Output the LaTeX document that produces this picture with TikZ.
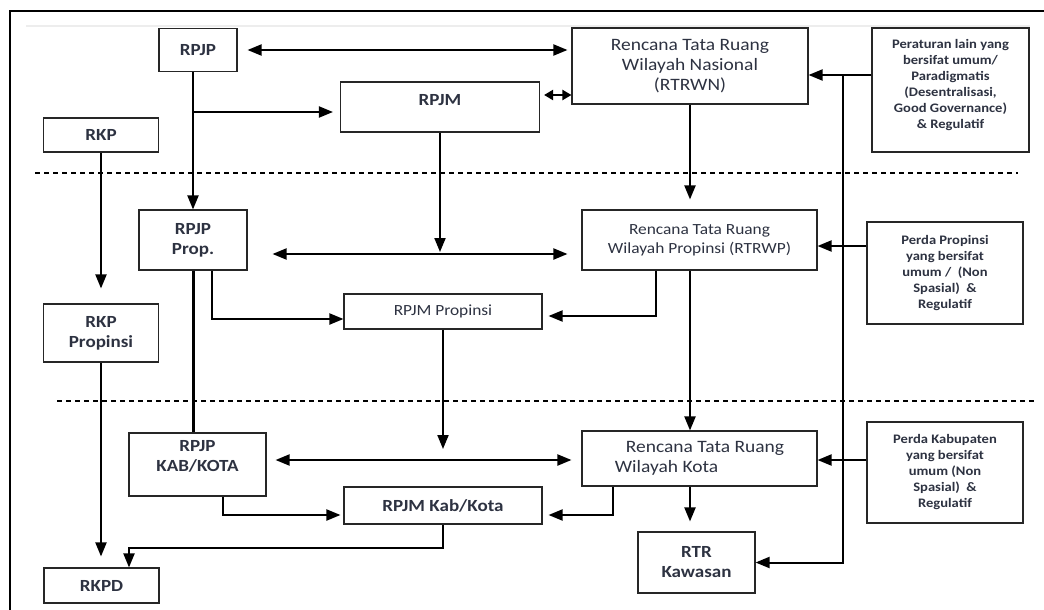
\documentclass[tikz,border=0pt]{standalone}
\usepackage{fontspec}
\setmainfont{Carlito}[FakeStretch=1.12]
\usetikzlibrary{arrows.meta}
\definecolor{txt}{RGB}{45,50,65}

\begin{document}
\begin{tikzpicture}[x=1pt, y=-1pt,
    >={Triangle[length=14pt,width=11pt]},
    box/.style={draw=black!85, line width=1.1pt, inner sep=0pt, align=center, text=txt},
    big/.style={font=\fontsize{17}{20}\selectfont\bfseries},
    reg/.style={font=\fontsize{17.4}{20}\selectfont},
    mid/.style={font=\fontsize{15.5}{19}\selectfont},
    small/.style={font=\fontsize{13}{16}\selectfont\bfseries},
    conn/.style={line width=2pt},
    sep/.style={dash pattern=on 5pt off 4pt, line width=1.1pt}]
  \useasboundingbox (0,0) rectangle (1044,610);

  \draw[line width=1.4pt] (1044,11) -- (10,11) -- (10,610);
  \draw[black!7, line width=2pt] (26,26) -- (1030,26);
  \draw[sep] (35,173) -- (1018,173);
  \draw[sep] (57,401) -- (1035,401);

  \node (rpjp) at (198,50) [box, big, minimum width=78pt, minimum height=43pt] {RPJP};
  \node (rpjm) at (440,107) [box, big, minimum width=199pt, minimum height=50pt] {\raisebox{7pt}[\height][\depth]{RPJM}};
  \node (rkp) at (101,135) [box, big, minimum width=115pt, minimum height=34pt] {RKP};
  \node (rtrwn) at (690,66) [box, reg, minimum width=236pt, minimum height=76pt] {Rencana Tata Ruang\\Wilayah Nasional\\(RTRWN)};
  \node (peraturan) at (950.5,90) [box, small, minimum width=157pt, minimum height=124pt] {Peraturan lain yang\\bersifat umum/\\Paradigmatis\\(Desentralisasi,\\Good Governance)\\\& Regulatif\\[-4pt]\mbox{}};

  \node (rpjpprop) at (193,240) [box, big, minimum width=108pt, minimum height=60pt] {RPJP\\Prop.};
  \node (rtrwp) at (699.5,240) [box, mid, minimum width=235pt, minimum height=60pt] {Rencana Tata Ruang\\Wilayah Propinsi (RTRWP)};
  \node (perdaprop) at (945,273) [box, small, minimum width=156pt, minimum height=102pt] {Perda Propinsi\\yang bersifat\\umum /\ \ (Non\\Spasial)\ \ \&\\Regulatif};
  \node (rkpprop) at (101,333) [box, big, minimum width=115pt, minimum height=58pt] {RKP\\Propinsi};
  \node (rpjmprop) at (443,311.5) [box, mid, minimum width=198pt, minimum height=35pt] {RPJM Propinsi};

  \node (rpjpkab) at (197.5,464.5) [box, big, minimum width=137pt, minimum height=63pt] {RPJP\\KAB/KOTA\\[-2pt]\mbox{}};
  \node (rtrkota) at (699.5,458.5) [box, reg, align=left, minimum width=235pt, minimum height=55pt] {\hspace*{11pt}Rencana Tata Ruang\\Wilayah Kota};
  \node (perdakab) at (945,472.5) [box, small, minimum width=156pt, minimum height=101pt] {Perda Kabupaten\\yang bersifat\\umum (Non\\Spasial)\ \ \&\\Regulatif};
  \node (rpjmkab) at (443,505.5) [box, big, minimum width=198pt, minimum height=37pt] {RPJM Kab/Kota};
  \node (rtrkawasan) at (696.5,562.5) [box, big, minimum width=117pt, minimum height=61pt] {RTR\\Kawasan};
  \node (rkpd) at (101.5,585.5) [box, big, minimum width=115pt, minimum height=35pt] {RKPD};

  \coordinate (j1) at (193,112);
  \coordinate (bus) at (843,75);
  \coordinate (kd) at (129,548);

  \draw[<->, conn, shorten <=10pt, shorten >=4pt] (rpjp.east) to (rpjp.east -| rtrwn.west);
  \draw[->, conn] (rpjp.south -| rpjpprop.north) to (rpjpprop.north);
  \draw[->, conn, shorten >=7pt] (j1) to (j1 -| rpjm.west);
  \draw[{Triangle[length=9pt,width=10pt]}-{Triangle[length=9pt,width=10pt]}, conn, shorten <=4pt] (rpjm.east |- 0,95) to (rtrwn.west |- 0,95);
  \draw[->, conn] (rpjm.south) to (rpjm.south |- 0,252);
  \draw[->, conn, shorten >=10pt] (rtrwn.south) to (rtrwn.south |- rtrwp.north);
  \draw[->, conn] (peraturan.west |- bus) to (rtrwn.east |- bus);
  \draw[->, conn] (bus) |- (rtrkawasan.east);
  \draw[->, conn, shorten >=15pt] (rkp.south) to (rkpprop.north);

  \draw[<->, conn, shorten <=25pt, shorten >=14pt] (rpjpprop.east |- 0,254) to (rtrwp.west |- 0,254);
  \draw[->, conn] (perdaprop.west |- 0,246) to (rtrwp.east |- 0,246);
  \draw[->, conn, shorten >=6pt] (rtrwp.south -| 656,0) |- ([yshift=-4.5pt]rpjmprop.east);
  \draw[->, conn] (rpjpprop.south -| 212,0) |- ([yshift=-7.5pt]rpjmprop.west);
  \draw[line width=3pt] (rpjpprop.south) to (rpjpprop.south |- rpjpkab.north);
  \draw[->, conn] (rtrwn.south |- rtrwp.south) to (rtrwn.south |- rtrkota.north);
  \draw[->, conn] (rpjmprop.south) to (rpjmprop.south |- 0,449);
  \draw[->, conn, shorten >=11pt] (rkpprop.south) to (rkpprop.south |- rkpd.north);

  \draw[<->, conn, shorten <=9pt, shorten >=10pt] (rpjpkab.east |- 0,460) to (rtrkota.west |- 0,460);
  \draw[->, conn] (perdakab.west |- 0,460) to (rtrkota.east |- 0,460);
  \draw[->, conn, shorten >=6pt] (rtrkota.south -| 613,0) |- ([yshift=-9.5pt]rpjmkab.east);
  \draw[->, conn, shorten >=3pt] (rpjpkab.south -| 223,0) |- ([yshift=-9.5pt]rpjmkab.west);
  \draw[->, conn, shorten >=10pt] (rtrkota.south -| rtrwn.south) to (rtrkawasan.north -| rtrwn.south);
  \draw[->, conn] (rpjmkab.south) |- (kd) to (kd |- rkpd.north);
\end{tikzpicture}
\end{document}
